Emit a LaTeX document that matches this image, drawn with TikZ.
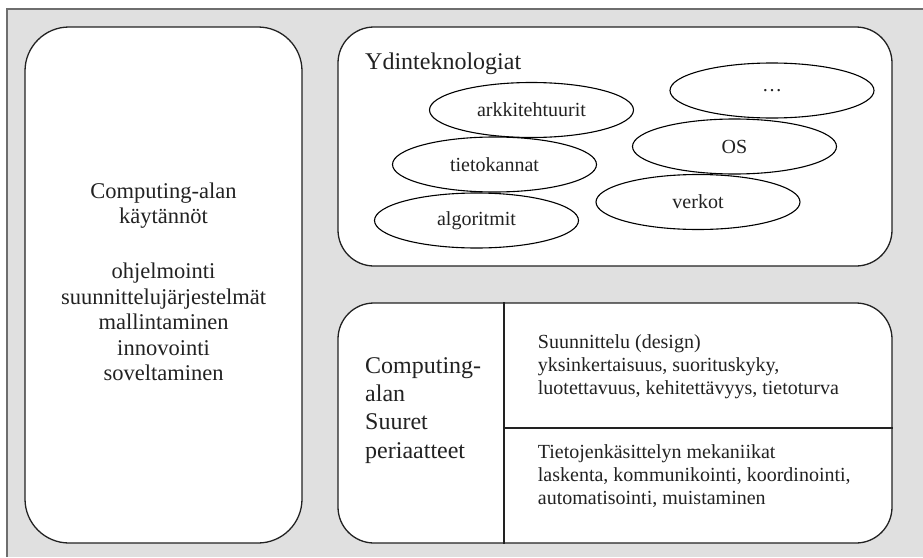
\documentclass[tikz,border=0pt]{standalone}
\usepackage{fontspec}
\setmainfont{Liberation Serif}
\usetikzlibrary{shapes.geometric}
\definecolor{panelgray}{HTML}{E0E0E0}
\definecolor{framegray}{HTML}{6E6E6E}
\definecolor{ink}{HTML}{222222}

\begin{document}
\begin{tikzpicture}[x=1pt,y=-1pt,
  roundbox/.style={rectangle, draw=ink, line width=1.3pt, fill=white, inner sep=0pt},
  topic/.style={ellipse, draw=black, line width=1.1pt, fill=white,
    minimum width=204pt, minimum height=55pt, inner sep=0pt,
    text=ink, font=\fontsize{20}{23}\selectfont},
  bigtext/.style={inner sep=0pt, text=ink, font=\fontsize{22.5}{25.5}\selectfont},
  headtext/.style={inner sep=0pt, text=ink, font=\fontsize{24}{28.3}\selectfont},
  smalltext/.style={inner sep=0pt, text=ink, align=left, font=\fontsize{20}{23.3}\selectfont},
  divider/.style={draw=ink, line width=1.3pt}
]
\useasboundingbox (0,0) rectangle (923,557);

% grey panel with its frame on the left and top
\fill[panelgray] (7,9) rectangle (923,557);
\draw[framegray, line width=2pt] (7,557) -- (7,9) -- (923,9);

% left column: practices of computing
\node[roundbox, rounded corners=44pt, minimum width=277pt, minimum height=516pt]
  (practice) at (163.5,285) {};
\node[bigtext, align=center, anchor=north] (practicetext) at (163.5,180.2)
  {\strut Computing-alan\\ käytännöt\\[29.7pt] ohjelmointi\\ suunnittelujärjestelmät\\
   mallintaminen\\ innovointi\\ soveltaminen};

% upper right: core technologies
\node[roundbox, rounded corners=36pt, minimum width=554pt, minimum height=239pt]
  (core) at (615,146.5) {};
\node[headtext, anchor=base west] (coretitle) at (365,69) {Ydinteknologiat};

\node[topic] (dots)   at (772,90.5)  {\dots};
\node[topic] (arch)   at (531.5,110) {arkkitehtuurit};
\node[topic] (os)     at (734.5,146.5) {OS};
\node[topic] (db)     at (494.5,164.5) {tietokannat};
\node[topic] (net)    at (698,202)   {verkot};
\node[topic] (algo)   at (476.5,220.5) {algoritmit};

% lower right: great principles of computing
\node[roundbox, rounded corners=36pt, minimum width=554pt, minimum height=240pt]
  (principles) at (615,423) {};
\coordinate (split) at (504,428);
\draw[divider] (principles.north -| split) -- (principles.south -| split);
\draw[divider] (split) -- (split -| principles.east);

\node[headtext, align=left, anchor=north west] (principlestitle) at (365,353.2)
  {\strut Computing-\\ alan\\ Suuret\\ periaatteet};
\node[smalltext, anchor=north west] (design) at (537.7,331.7)
  {\strut Suunnittelu (design)\\ yksinkertaisuus, suorituskyky,\\ luotettavuus, kehitettävyys, tietoturva};
\node[smalltext, anchor=north west] (mechanics) at (537.7,441.7)
  {\strut Tietojenkäsittelyn mekaniikat\\ laskenta, kommunikointi, koordinointi,\\ automatisointi, muistaminen};
\end{tikzpicture}
\end{document}
